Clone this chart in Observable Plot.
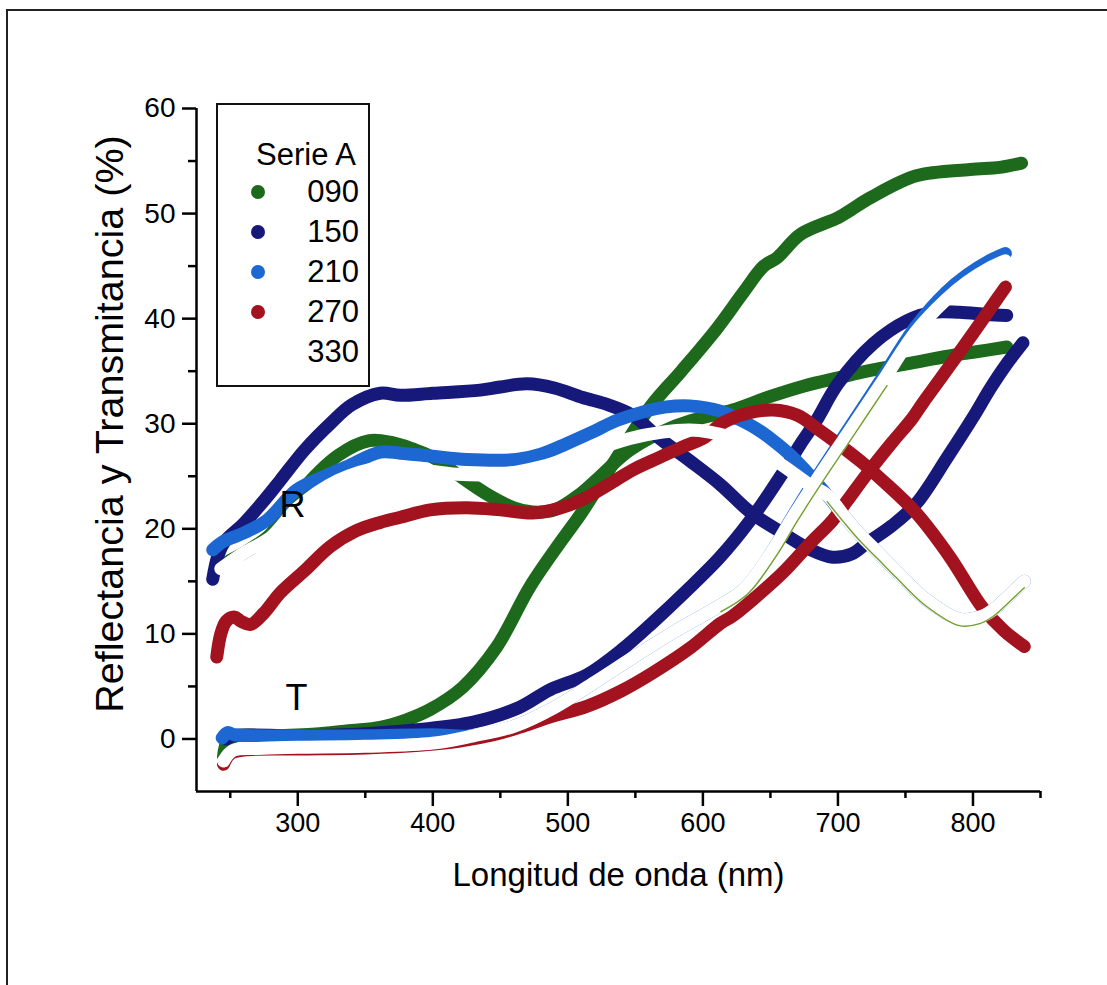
<!DOCTYPE html>
<html>
<head>
<meta charset="utf-8">
<script src="https://cdn.jsdelivr.net/npm/d3@7"></script>
<script src="https://cdn.jsdelivr.net/npm/@observablehq/plot@0.6"></script>
<style>
  html, body { margin: 0; padding: 0; background: #fff; }
  #wrap { position: relative; width: 1107px; height: 985px; overflow: hidden; font-family: "Liberation Sans", Arial, sans-serif; }
  #frame { position: absolute; left: 6px; top: 9px; right: -4px; bottom: -4px; border-top: 2px solid #222; border-left: 2px solid #222; pointer-events: none; }
  #legend { position: absolute; left: 216px; top: 103px; width: 150px; height: 280px; border: 2px solid #111; background: #fff; }
  #legend .title { position: absolute; left: 38px; top: 34px; font-size: 31px; line-height: 31px; color: #000; white-space: nowrap; }
  #legend .row { position: absolute; left: 0; width: 141px; height: 32px; }
  #legend .dot { position: absolute; left: 33px; top: 9px; width: 14px; height: 14px; border-radius: 50%; }
  #legend .lab { position: absolute; right: 0; top: 0; font-size: 31px; line-height: 32px; color: #000; }
</style>
</head>
<body>
<div id="wrap">
  <div id="chart"></div>
  <div id="frame"></div>
  <div id="legend"></div>
</div>
<script>
// Spectra: wavelength (nm) and percentage for reflectance (R) and transmittance (T) of each sample
const samples = ["090", "150", "210", "270", "330"];
const colors = ["#1d6a1d", "#16197a", "#1d67d2", "#a3121f", "#ffffff"];
const edgeColor = "#74a02a";

const R090 = [[240,16.1],[250,17],[260,17.7],[280,19.5],[300,23.2],[330,27],[353,28.4],[370,28.2],[385,27.6],[400,26.8],[418,25.2],[440,23.3],[460,22],[474,21.6],[490,21.8],[510,23.4],[524,25],[546,27.5],[580,29.8],[600,30.6],[622,31.3],[650,32.6],[675,33.6],[701,34.4],[725,35.1],[751,35.7],[780,36.4],[800,36.8],[825,37.3]];
const T090 = [[245,-1.7],[248,-0.2],[255,0.3],[280,0.3],[316,0.5],[340,0.8],[361,1.1],[380,1.8],[398,2.8],[422,4.9],[447,8.7],[472,14.5],[496,19],[510,21.5],[530,25.5],[561,31.6],[584,35],[610,39],[630,42.5],[645,45],[655,45.8],[672,48],[700,49.6],[709,50.3],[724,51.5],[758,53.6],[798,54.2],[820,54.4],[836,54.8]];

const R150 = [[237,15.2],[241,17.5],[246,18.8],[260,20.5],[277,23],[287,24.6],[305,27.5],[324,30],[340,31.8],[361,32.9],[376,32.7],[400,32.9],[435,33.2],[450,33.5],[470,33.8],[490,33.4],[511,32.5],[530,31.8],[548,30.8],[568,28.6],[590,26.5],[613,24.2],[635,21.6],[659,19.6],[680,18],[696,17.3],[710,17.6],[721,18.6],[740,20.3],[758,22.4],[781,26.8],[800,30.6],[813,33.4],[825,35.7],[837,37.7]];
const T150 = [[247,0],[252,0.3],[300,0.3],[350,0.5],[390,0.9],[430,1.6],[464,3],[487,4.7],[514,6.1],[540,8.5],[563,11.1],[587,14],[612,17.2],[635,20.8],[659,25.3],[672,28],[684,30.3],[700,33.8],[726,37.6],[751,39.8],[770,40.6],[790,40.6],[810,40.4],[825,40.3]];

const R210 = [[237,18],[245,18.8],[260,19.6],[277,20.8],[299,23.7],[320,25],[336,25.9],[361,27.3],[376,27.2],[400,26.9],[425,26.6],[462,26.6],[480,27.1],[499,28.1],[518,29.2],[536,30.3],[555,31.1],[573,31.6],[590,31.7],[613,31.2],[627,30.4],[640,29.5],[652,28.4],[665,27],[677,25.4],[684,24.4],[692,23.2],[704,21.3],[716,19.5],[730,17.7],[743,16],[765,13.3],[790,11.4],[805,11.6],[815,12.3],[828,13.8],[838,15]];
const T210 = [[244,0.1],[248,0.6],[253,0.4],[270,0.3],[300,0.3],[350,0.3],[400,0.4],[430,0.3],[460,1.2],[490,3],[520,5.4],[550,7.9],[580,10.3],[610,12.5],[630,14.2],[651,17.8],[667,21.3],[684,24.8],[709,29.7],[733,34.4],[758,39.3],[780,42.5],[796,44.2],[812,45.5],[824,46.2]];

const R270 = [[240,7.8],[243,10],[247,11.2],[253,11.6],[258,11.2],[265,10.9],[275,12],[287,13.9],[305,16],[324,18.3],[343,19.8],[361,20.6],[376,21.1],[398,21.8],[425,22],[450,21.8],[474,21.5],[495,22],[511,22.8],[530,24.2],[548,25.6],[568,26.8],[585,27.8],[600,28.6],[615,30.1],[633,31],[652,31.3],[670,30.8],[685,29.5],[701,28],[717,26.4],[733,24.6],[758,21.5],[783,17.3],[807,12.5],[823,10.3],[838,8.8]];
const T270 = [[245,-2.4],[250,-1.4],[260,-1.05],[300,-0.95],[350,-0.85],[390,-0.6],[420,-0.2],[445,0.4],[464,1.1],[487,2.1],[514,3.1],[540,4.6],[563,6.3],[590,8.6],[613,11],[622,11.7],[640,13.6],[659,15.8],[680,18.7],[696,20.8],[707,22.7],[722,25.3],[740,28.2],[755,30.5],[763,32],[776,34.3],[800,38.6],[812,40.8],[824,43]];

const R330 = [[243,16.2],[260,17.7],[280,19.2],[300,22],[330,24.6],[360,25.8],[385,25.7],[418,25.2],[450,25.2],[480,25.9],[510,27.1],[546,28.6],[570,29.2],[590,29.4],[605,29.2],[630,28.3],[657,26.2],[680,24.1],[692,23.2],[704,21.3],[716,19.5],[730,17.7],[743,16],[765,13.3],[790,11.4],[805,11.6],[815,12.3],[828,13.8],[838,15]];
const T330 = [[245,-2.1],[252,-1.1],[270,-0.9],[300,-0.8],[350,-0.7],[400,-0.4],[430,0.3],[460,1.2],[490,3],[520,5.4],[550,7.9],[580,10.3],[610,12.5],[630,14.2],[651,17.8],[667,21.2],[684,24.6],[709,29.4],[733,34],[758,38.8],[780,41.8],[796,43.5],[812,44.8],[824,45.5]];

const xTicks = [300, 400, 500, 600, 700, 800];
const xMinor = [250, 350, 450, 550, 650, 750, 850];
const yTicks = [0, 10, 20, 30, 40, 50, 60];
const yMinor = [5, 15, 25, 35, 45, 55];
const xLabel = "Longitud de onda (nm)";
const yLabel = "Reflectancia y Transmitancia (%)";
const curveLabels = [{text: "R", nm: 296, v: 22.2}, {text: "T", nm: 299, v: 3.9}];

// Build one table per sample (R and T curves), drawn in sample order
const curves = [
  [R090, T090], [R150, T150], [R210, T210], [R270, T270], [R330, T330]
];
const rows = [];
curves.forEach((pair, i) => {
  pair.forEach((pts, j) => {
    pts.forEach(([nm, v]) => rows.push({sample: samples[i], kind: j === 0 ? "R" : "T", nm, v}));
  });
});

const W = 13;
const lineMarks = samples.map((s, i) =>
  Plot.line(rows.filter(d => d.sample === s), {
    x: "nm", y: "v", z: "kind",
    stroke: colors[i], strokeWidth: W,
    strokeLinecap: "round", strokeLinejoin: "round",
    curve: "catmull-rom"
  })
);

// Thin outline along the lower edge of the white 330 curves
const edgeR = rows.filter(d => d.sample === "330" && d.kind === "R" && d.nm >= 690);
const edgeT = rows.filter(d => d.sample === "330" && d.kind === "T" && d.nm >= 610 && d.nm <= 733);

const chart = Plot.plot({
  width: 1107,
  height: 985,
  marginLeft: 196,
  marginRight: 67,
  marginTop: 108,
  marginBottom: 194,
  style: {fontFamily: "'Liberation Sans', Arial, sans-serif", background: "transparent", color: "#000", overflow: "visible"},
  x: {domain: [225, 850]},
  y: {domain: [-5, 60]},
  marks: [
    ...lineMarks,
    Plot.line(edgeR, {x: "nm", y: "v", dy: W / 2, stroke: edgeColor, strokeWidth: 1.4, curve: "catmull-rom"}),
    Plot.line(edgeT, {x: "nm", y: "v", dx: 4.5, dy: 4, stroke: edgeColor, strokeWidth: 1.4, curve: "catmull-rom"}),
    Plot.text(curveLabels, {x: "nm", y: "v", text: "text", fontSize: 36, fill: "#000"}),
    Plot.ruleX([225], {stroke: "#000", strokeWidth: 2.5}),
    Plot.ruleY([-5], {stroke: "#000", strokeWidth: 2.5}),
    Plot.axisX({ticks: xTicks, tickFormat: d => String(d), tickSize: 15, tickPadding: 6, fontSize: 27, strokeWidth: 2.5, label: null}),
    Plot.axisX({ticks: xMinor, tickFormat: () => "", tickSize: 7, strokeWidth: 2.5, label: null}),
    Plot.axisY({ticks: yTicks, tickFormat: d => String(d), tickSize: 14, tickPadding: 7, fontSize: 28, strokeWidth: 2.5, label: null}),
    Plot.axisY({ticks: yMinor, tickFormat: () => "", tickSize: 8, strokeWidth: 2.5, label: null}),
    Plot.text([xLabel], {frameAnchor: "bottom", dy: 94, fontSize: 33, fill: "#000"}),
    Plot.text([yLabel], {frameAnchor: "left", textAnchor: "middle", rotate: -90, dx: -86, dy: -26, fontSize: 39.5, fill: "#000"})
  ]
});
document.getElementById("chart").appendChild(chart);

// Legend box
const legend = d3.select("#legend");
legend.append("div").attr("class", "title").text("Serie A");
samples.forEach((s, i) => {
  const row = legend.append("div").attr("class", "row").style("top", (71 + i * 40) + "px");
  row.append("div").attr("class", "dot").style("background", colors[i]);
  row.append("div").attr("class", "lab").text(s);
});
</script>
</body>
</html>
